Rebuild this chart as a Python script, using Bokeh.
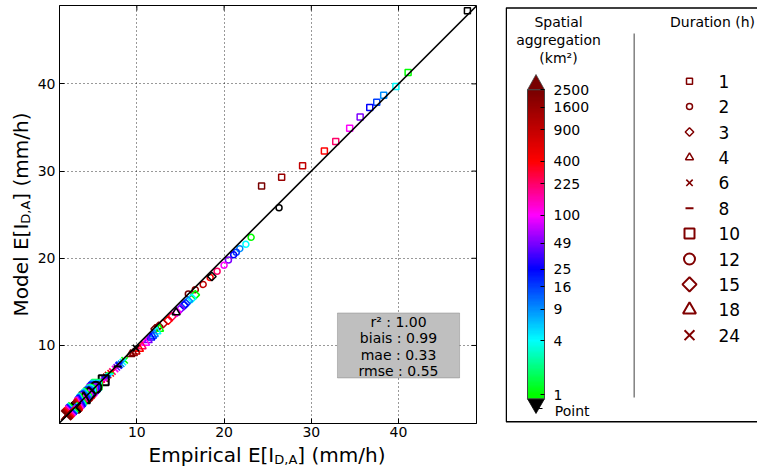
import numpy as np
from math import pi
from bokeh.plotting import figure
from bokeh.layouts import row, column
from bokeh.models import (Range1d, FixedTicker, Label, BoxAnnotation, Slope,
                          ColumnDataSource, LogColorMapper, ColorBar)
from bokeh.transform import transform
from bokeh.embed import file_html
from bokeh.resources import INLINE

# ---------------- data ----------------
durations = [1, 2, 3, 4, 6, 8, 10, 12, 15, 18, 24]
area_labels = ["Point", "1", "4", "9", "16", "25", "49", "100", "225", "400", "900", "1600", "2500"]
area_values = [np.nan, 1, 4, 9, 16, 25, 49, 100, 225, 400, 900, 1600, 2500]
area_ticks = [1, 4, 9, 16, 25, 49, 100, 225, 400, 900, 1600, 2500]
axis_ticks = [10, 20, 30, 40]

emp_1h = [47.9, 41.1, 39.7, 38.3, 37.5, 36.7, 35.6, 34.4, 32.8, 31.5, 29.0, 26.6, 24.3]
mod_1h = [48.4, 41.3, 39.7, 38.7, 37.9, 37.3, 36.2, 34.9, 33.4, 32.3, 30.6, 29.3, 28.3]
emp_2h = [26.3, 23.1, 22.5, 21.8, 21.4, 21.1, 20.5, 20.0, 19.2, 18.4, 17.6, 16.7, 15.9]
mod_2h = [25.8, 22.4, 21.6, 21.1, 20.7, 20.4, 19.8, 19.2, 18.5, 17.8, 17.0, 16.4, 15.9]
emp_3h = [18.6, 16.7, 16.3, 15.9, 15.6, 15.4, 15.0, 14.6, 14.0, 13.6, 13.0, 12.5, 12.1]
mod_3h = [17.9, 15.8, 15.4, 15.1, 14.8, 14.6, 14.2, 13.8, 13.3, 12.9, 12.5, 12.2, 11.9]
emp_4h = [14.5, 12.6, 12.3, 12.0, 11.8, 11.6, 11.3, 11.0, 10.6, 10.3, 9.9, 9.6, 9.3]
mod_4h = [13.8, 11.9, 11.6, 11.3, 11.1, 10.9, 10.6, 10.3, 9.9, 9.6, 9.3, 9.1, 9.0]
emp_6h = [9.9, 8.6, 8.4, 8.2, 8.0, 7.9, 7.7, 7.5, 7.2, 7.0, 6.7, 6.5, 6.3]
mod_6h = [9.7, 8.3, 8.1, 7.9, 7.8, 7.7, 7.5, 7.3, 7.0, 6.8, 6.6, 6.4, 6.2]
emp_8h = [7.8, 6.9, 6.8, 6.6, 6.5, 6.4, 6.3, 6.1, 5.9, 5.7, 5.5, 5.3, 5.1]
mod_8h = [7.6, 6.8, 6.7, 6.5, 6.4, 6.3, 6.2, 6.0, 5.8, 5.6, 5.4, 5.3, 5.1]
emp_10h = [6.2, 5.4, 5.3, 5.2, 5.1, 5.0, 4.9, 4.8, 4.6, 4.5, 4.3, 4.2, 4.0]
mod_10h = [6.0, 5.5, 5.4, 5.3, 5.2, 5.1, 5.0, 4.8, 4.6, 4.5, 4.3, 4.2, 4.1]
emp_12h = [5.3, 4.7, 4.6, 4.5, 4.4, 4.4, 4.3, 4.2, 4.0, 3.9, 3.8, 3.7, 3.6]
mod_12h = [5.2, 4.9, 4.8, 4.7, 4.6, 4.5, 4.4, 4.3, 4.1, 4.0, 3.8, 3.7, 3.6]
emp_15h = [4.5, 4.0, 3.9, 3.9, 3.8, 3.7, 3.7, 3.6, 3.5, 3.4, 3.3, 3.2, 3.1]
mod_15h = [4.4, 4.3, 4.2, 4.1, 4.0, 3.9, 3.8, 3.7, 3.5, 3.4, 3.3, 3.2, 3.1]
emp_18h = [3.9, 3.5, 3.4, 3.4, 3.3, 3.3, 3.2, 3.1, 3.0, 3.0, 2.9, 2.8, 2.7]
mod_18h = [3.8, 3.7, 3.6, 3.5, 3.5, 3.4, 3.3, 3.2, 3.1, 3.0, 2.9, 2.8, 2.7]
emp_24h = [3.0, 2.7, 2.6, 2.6, 2.5, 2.5, 2.4, 2.4, 2.3, 2.2, 2.1, 2.0, 1.9]
mod_24h = [2.9, 2.9, 2.8, 2.7, 2.7, 2.6, 2.6, 2.5, 2.4, 2.3, 2.2, 2.1, 2.0]

stats_lines = ["r\u00b2 : 1.00", "biais : 0.99", "mae : 0.33", "rmse : 0.55"]

series = {1: (emp_1h, mod_1h), 2: (emp_2h, mod_2h), 3: (emp_3h, mod_3h), 4: (emp_4h, mod_4h),
          6: (emp_6h, mod_6h), 8: (emp_8h, mod_8h), 10: (emp_10h, mod_10h), 12: (emp_12h, mod_12h),
          15: (emp_15h, mod_15h), 18: (emp_18h, mod_18h), 24: (emp_24h, mod_24h)}

# ---------------- styles ----------------
FONT = "DejaVu Sans"
marker_style = {1: ("square", 6, 0, 1.5), 2: ("circle", 6, 0, 1.5), 3: ("square", 6, pi / 4, 1.5),
                4: ("triangle", 8, 0, 1.5), 6: ("x", 9, 0, 1.6), 8: ("dash", 8, 0, 2),
                10: ("square", 10, 0, 2), 12: ("circle", 11, 0, 2), 15: ("square", 10, pi / 4, 2),
                18: ("triangle", 13, 0, 2), 24: ("x", 14, 0, 2)}

low_v, high_v = 0.9, 2500.0
anchor_pos = np.log10([1, 4, 25, 100, 400, 2500])
anchor_rgb = np.array([(0, 255, 0), (0, 255, 255), (0, 0, 255), (255, 0, 255), (255, 0, 0), (120, 0, 0)], float)
tt = np.linspace(np.log10(low_v), np.log10(high_v), 256)
palette = []
for t in tt:
    c = [int(round(np.interp(t, anchor_pos, anchor_rgb[:, k]))) for k in range(3)]
    palette.append("#%02x%02x%02x" % tuple(c))
mapper = LogColorMapper(palette=palette, low=low_v, high=high_v, nan_color="black")

EM = {' ': 0.318, 'E': 0.632, 'm': 0.974, 'p': 0.635, 'i': 0.278, 'r': 0.411, 'c': 0.550, 'a': 0.613,
      'l': 0.278, '[': 0.390, 'I': 0.295, ']': 0.390, '(': 0.390, ')': 0.390, '/': 0.337, 'h': 0.634,
      'D': 0.770, ',': 0.318, 'A': 0.684, 'M': 0.863, 'o': 0.612, 'd': 0.635, 'e': 0.615}


def tw(s, size):
    return sum(EM[c] for c in s) * size


# ---------------- page geometry (pixels) ----------------
YL_W = 34
MAIN_W = 471
LEG_W = 252
TOP, BOT = 5, 20
FRAME_H = 418
ROW_H = TOP + FRAME_H + BOT      # 443
XL_H = 467 - ROW_H               # 24
f_top, f_bot = TOP, TOP + FRAME_H

# ---------------- main figure ----------------
xr = Range1d(1.13, 48.94)
yr = Range1d(1.05, 48.99)
p = figure(width=MAIN_W, height=ROW_H, x_range=xr, y_range=yr, toolbar_location=None,
           output_backend="svg", min_border_left=23, min_border_right=29,
           min_border_top=TOP, min_border_bottom=BOT)
p.outline_line_color = "black"
for ax in (p.xaxis[0], p.yaxis[0]):
    ax.ticker = FixedTicker(ticks=axis_ticks)
    ax.major_tick_in = 5
    ax.major_tick_out = 0
    ax.minor_tick_line_color = None
    ax.axis_line_color = "black"
    ax.major_tick_line_color = "black"
    ax.major_label_text_font = FONT
    ax.major_label_text_font_size = "14px"
    ax.major_label_text_color = "black"
p.xaxis.major_label_standoff = 3
p.yaxis.major_label_standoff = 4
p.grid.ticker = FixedTicker(ticks=axis_ticks)
p.grid.grid_line_color = "black"
p.grid.grid_line_alpha = 0.8
p.grid.grid_line_dash = "1 3"
p.grid.grid_line_width = 1

area_arr = np.array(area_values, dtype=float)
for d in durations:
    emp, mod = series[d]
    mk, sz, ang, lw = marker_style[d]
    src = ColumnDataSource(dict(emp=np.array(emp, float), mod=np.array(mod, float), area=area_arr))
    p.scatter("emp", "mod", source=src, marker=mk, size=sz, angle=ang, fill_color=None,
              line_color=transform("area", mapper), line_width=lw)

# inward ticks on the top and right edges (half of each dash is clipped by the frame)
p.scatter(x=axis_ticks, y=[yr.end] * len(axis_ticks), marker="dash", angle=pi / 2, size=10,
          line_color="black", line_width=1)
p.scatter(x=[xr.end] * len(axis_ticks), y=axis_ticks, marker="dash", size=10,
          line_color="black", line_width=1)

p.add_layout(Slope(gradient=1, y_intercept=0, line_color="black", line_width=1.6))

p.add_layout(BoxAnnotation(left=33.0, right=47.0, bottom=6.27, top=13.73, fill_color="#bfbfbf",
                           fill_alpha=1.0, line_color="#555555", line_width=1))
for i, s in enumerate(stats_lines):
    p.add_layout(Label(x=40.0, y=10.0, y_offset=23.5 - 16.3 * i, text=s, text_align="center",
                       text_baseline="middle", text_font=FONT, text_font_size="14px", text_color="black"))

big, small = 20, 13

# ---------------- y label strip ----------------
yl = figure(width=YL_W, height=ROW_H, x_range=Range1d(0, YL_W), y_range=Range1d(f_bot, f_top),
            toolbar_location=None, output_backend="svg", x_axis_location=None, y_axis_location=None,
            min_border_left=0, min_border_right=0, min_border_top=TOP, min_border_bottom=BOT)
yl.grid.grid_line_color = None
yl.outline_line_color = None
yw1, yw2, yw3 = tw("Model E[I", big), tw("D,A", small), tw("] (mm/h)", big)
YW = yw1 + yw2 + yw3
ymid = (f_top + f_bot) / 2
for txt, off, xa, fs in (("Model E[I", 0, 20.5, big), ("D,A", yw1, 25.0, small), ("] (mm/h)", yw1 + yw2, 20.5, big)):
    yl.add_layout(Label(x=xa, y=ymid, y_offset=-YW / 2 + off, angle=pi / 2,
                        text=txt, text_align="left", text_baseline="middle", text_font=FONT,
                        text_font_size="%dpx" % fs, text_color="black"))

# ---------------- x label strip ----------------
XL_W = YL_W + MAIN_W
xl = figure(width=XL_W, height=XL_H, x_range=Range1d(0, XL_W), y_range=Range1d(467, ROW_H),
            toolbar_location=None, output_backend="svg", x_axis_location=None, y_axis_location=None,
            min_border=0)
xl.grid.grid_line_color = None
xl.outline_line_color = None
xw1, xw2, xw3 = tw("Empirical E[I", big), tw("D,A", small), tw("] (mm/h)", big)
XW = xw1 + xw2 + xw3
xmid = (57 + 476) / 2
for txt, off, ya, fs in (("Empirical E[I", 0, 454.7, big), ("D,A", xw1, 459.2, small), ("] (mm/h)", xw1 + xw2, 454.7, big)):
    xl.add_layout(Label(x=xmid - XW / 2 + off, y=ya, text=txt, text_align="left",
                        text_baseline="middle", text_font=FONT,
                        text_font_size="%dpx" % fs, text_color="black"))

# ---------------- legend panel (data units = page pixels) ----------------
x0 = YL_W + MAIN_W   # 505
leg = figure(width=LEG_W, height=ROW_H, x_range=Range1d(x0, x0 + LEG_W), y_range=Range1d(f_bot, f_top),
             toolbar_location=None, output_backend="svg", x_axis_location=None,
             y_axis_location=None, min_border_left=0, min_border_right=0,
             min_border_top=TOP, min_border_bottom=BOT)
leg.grid.grid_line_color = None
leg.outline_line_color = None

leg.line(x=[x0 + LEG_W, x0 + 0.75, x0 + 0.75, x0 + LEG_W], y=[7.5, 7.5, 421.3, 421.3],
         line_color="black", line_width=1.5)
leg.line(x=[633.7, 633.7], y=[33, 397], line_color="#808080", line_width=1.5)

bar_left, bar_w, bar_top, bar_bottom = 527, 17, 89.3, 398.3
cb = ColorBar(color_mapper=mapper, ticker=FixedTicker(ticks=area_ticks),
              major_label_overrides={float(v): str(v) for v in area_ticks},
              location=(bar_left - x0, f_bot - bar_bottom), orientation="vertical", width=bar_w,
              height=int(round(bar_bottom - bar_top)), padding=0, margin=0, title=None,
              major_label_text_font=FONT, major_label_text_font_size="14px",
              major_label_text_color="black", label_standoff=9, major_tick_in=4,
              major_tick_out=0, major_tick_line_color="black", minor_tick_line_color=None,
              bar_line_color="#444444", border_line_color=None, background_fill_color=None)
leg.add_layout(cb, "center")
leg.patch(x=[bar_left, bar_left + bar_w, bar_left + bar_w / 2], y=[bar_top, bar_top, bar_top - 15.3],
          fill_color=palette[-1], line_color="#444444", line_width=0.8)
leg.patch(x=[bar_left, bar_left + bar_w, bar_left + bar_w / 2], y=[bar_bottom, bar_bottom, bar_bottom + 14.7],
          fill_color="black", line_color="black", line_width=0.8)
leg.line(x=[538, 542], y=[408, 408], line_color="black", line_width=1)
leg.add_layout(Label(x=554.3, y=410, text=area_labels[0], text_align="left", text_baseline="middle",
                     text_font=FONT, text_font_size="14px", text_color="black"))

for i, s in enumerate(["Spatial", "aggregation", "(km\u00b2)"]):
    leg.add_layout(Label(x=558, y=21 + 18 * i, text=s, text_align="center", text_baseline="middle",
                         text_font=FONT, text_font_size="14px", text_color="black"))
leg.add_layout(Label(x=712, y=21, text="Duration (h)", text_align="center", text_baseline="middle",
                     text_font=FONT, text_font_size="14px", text_color="black"))

for i, d in enumerate(durations):
    mk, sz, ang, lw = marker_style[d]
    yy = 80.7 + 25.4 * i
    leg.scatter(x=[689], y=[yy], marker=mk, size=sz, angle=ang, fill_color=None,
                line_color="#800000", line_width=lw)
    leg.add_layout(Label(x=718, y=yy, text=str(d), text_align="left", text_baseline="middle",
                         text_font=FONT, text_font_size="17px", text_color="black"))

layout = column(row(yl, p, leg), xl)
open("out.html", "w").write(file_html(layout, INLINE))
